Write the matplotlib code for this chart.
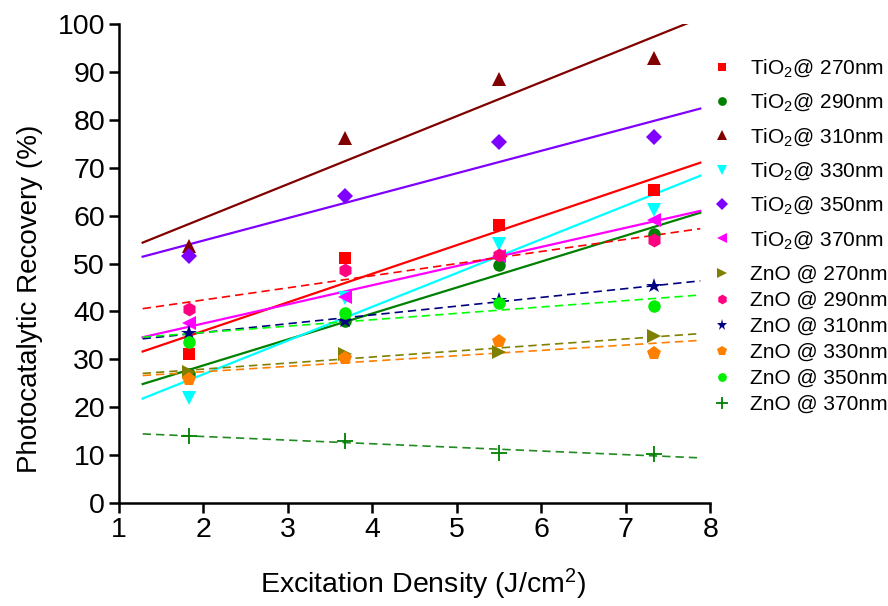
import numpy as np
import matplotlib
matplotlib.use("Agg")
import matplotlib.pyplot as plt

plt.rcParams['font.family'] = ['Liberation Sans', 'DejaVu Sans']
plt.rcParams['mathtext.fontset'] = 'custom'
plt.rcParams['mathtext.rm'] = 'Liberation Sans'
plt.rcParams['mathtext.it'] = 'Liberation Sans'

# Excitation densities (J/cm^2)
density = [1.83, 3.67, 5.5, 7.33]

# Photocatalytic recovery (%) per catalyst and wavelength
tio2_270 = [31.1, 51.1, 58.0, 65.3]
tio2_290 = [27.0, 38.0, 49.8, 56.2]
tio2_310 = [53.7, 76.2, 88.5, 93.0]
tio2_330 = [22.0, 42.9, 54.2, 61.3]
tio2_350 = [51.6, 64.2, 75.4, 76.5]
tio2_370 = [37.6, 43.0, 51.5, 59.2]
zno_270 = [27.3, 31.2, 31.5, 34.9]
zno_290 = [40.5, 48.6, 51.8, 54.9]
zno_310 = [35.6, 38.0, 42.5, 45.3]
zno_330 = [25.8, 30.2, 33.8, 31.4]
zno_350 = [33.7, 39.6, 41.8, 41.1]
zno_370 = [14.0, 13.0, 10.5, 10.2]

tio2_labels = [r'TiO$_\mathregular{2}$@ 270nm', r'TiO$_\mathregular{2}$@ 290nm',
               r'TiO$_\mathregular{2}$@ 310nm', r'TiO$_\mathregular{2}$@ 330nm',
               r'TiO$_\mathregular{2}$@ 350nm', r'TiO$_\mathregular{2}$@ 370nm']
zno_labels = ['ZnO @ 270nm', 'ZnO @ 290nm', 'ZnO @ 310nm',
              'ZnO @ 330nm', 'ZnO @ 350nm', 'ZnO @ 370nm']
labels = tio2_labels + zno_labels
series = [tio2_270, tio2_290, tio2_310, tio2_330, tio2_350, tio2_370,
          zno_270, zno_290, zno_310, zno_330, zno_350, zno_370]

# (marker, marker colour, marker size, fit colour, fit style)
styles = [
    ('s', '#FF0000', 8.5, '#FF0000', '-'),
    ('o', '#008000', 9, '#008000', '-'),
    ('^', '#800000', 10.5, '#800000', '-'),
    ('v', '#00FFFF', 10.5, '#00FFFF', '-'),
    ('D', '#8000FF', 8.5, '#8000FF', '-'),
    ('<', '#FF00FF', 10.5, '#FF00FF', '-'),
    ('>', '#808000', 10.5, '#808000', '--'),
    ('h', '#FF0080', 10, '#FF0000', '--'),
    ('*', '#000080', 11.5, '#000080', '--'),
    ('p', '#FF8000', 10.5, '#FF8000', '--'),
    ('o', '#00EE00', 9, '#00FF00', '--'),
    ('+', '#008000', 12, '#228B22', '--'),
]

fig = plt.figure(figsize=(8.88, 6.06), dpi=100)
ax = fig.add_axes([0.134, 0.170, 0.666, 0.790])

x = np.array(density)
xfit = np.array([x.min() - 0.55, x.max() + 0.55])
handles = []
for y, lab, (mk, mc, ms, lc, ls) in zip(series, labels, styles):
    slope, icpt = np.polyfit(x, np.array(y), 1)
    if ls == '-':
        ax.plot(xfit, slope * xfit + icpt, color=lc, lw=1.6, zorder=2)
    else:
        ax.plot(xfit, slope * xfit + icpt, color=lc, lw=1.2,
                dashes=[5, 3], zorder=2)
    mew = 1.3 if mk == '+' else 0
    h, = ax.plot(x, y, linestyle='none', marker=mk, color=mc, ms=ms,
                 mew=mew, mec=mc, label=lab, zorder=3)
    handles.append(h)

ax.set_xlim(1, 8)
ax.set_ylim(0, 100)
ax.set_xticks(range(1, 9))
ax.set_yticks(range(0, 101, 10))
for side in ('top', 'right'):
    ax.spines[side].set_visible(False)
for side in ('left', 'bottom'):
    ax.spines[side].set_linewidth(1.8)
ax.tick_params(direction='out', length=7, width=1.8, labelsize=20.5, pad=3)

ax.set_xlabel(r'Excitation Density (J/cm$^\mathregular{2}$)', fontsize=20.5)
ax.set_ylabel('Photocatalytic Recovery (%)', fontsize=20)
ax.xaxis.set_label_coords(0.514, -0.134)
ax.yaxis.set_label_coords(-0.128, 0.426)

# Two legend blocks: the subscripted TiO2 rows sit further apart
common = dict(loc='upper left', frameon=False, fontsize=15, markerscale=0.7,
              handlelength=1.2, handletextpad=0.75, borderaxespad=0,
              borderpad=0)
leg1 = fig.legend(handles=handles[:6], bbox_to_anchor=(0.799, 0.905),
                  labelspacing=0.61, **common)
leg2 = fig.legend(handles=handles[6:], bbox_to_anchor=(0.799, 0.563),
                  labelspacing=0.34, **common)

fig.savefig('out.png', dpi=100)
